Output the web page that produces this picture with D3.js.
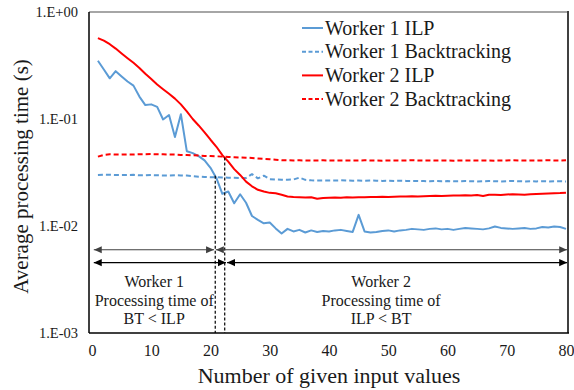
<!DOCTYPE html>
<html>
<head>
<meta charset="utf-8">
<script src="https://cdn.jsdelivr.net/npm/d3@7"></script>
<style>
  body { margin: 0; background: #fff; }
  svg, svg text { font-family: "Liberation Serif", "Times New Roman", serif; }
</style>
</head>
<body>
<svg id="chart"></svg>
<script>
const width = 574, height = 390;
const box = { left: 89, right: 568, top: 12, bottom: 333 };
const serif = "Liberation Serif";

// Data (x = number of given input values, 1..80)
const inputs = d3.range(1, 81);

const w1ILP = [0.35, 0.29, 0.24, 0.28, 0.25, 0.224, 0.205, 0.162, 0.135, 0.137,
  0.130, 0.099, 0.109, 0.068, 0.111, 0.050, 0.048, 0.045, 0.041, 0.035,
  0.028, 0.020, 0.021, 0.0163, 0.0198, 0.0165, 0.0124, 0.0114, 0.0106, 0.0108,
  0.0095, 0.0085, 0.0094, 0.0089, 0.0092, 0.0087, 0.0091, 0.0088, 0.0090, 0.0089,
  0.0091, 0.0092, 0.0090, 0.0088, 0.0127, 0.0089, 0.0087, 0.0088, 0.0090, 0.0091,
  0.0089, 0.0091, 0.0092, 0.0094, 0.0093, 0.0092, 0.0094, 0.0095, 0.0093, 0.0094,
  0.0092, 0.0094, 0.0096, 0.0095, 0.0094, 0.0093, 0.0095, 0.0099, 0.0096, 0.0095,
  0.0094, 0.0095, 0.0096, 0.0094, 0.0095, 0.0098, 0.0097, 0.0099, 0.0098, 0.0094];

const w1BT = [0.0300, 0.0302, 0.0301, 0.0300, 0.0299, 0.0300, 0.0301, 0.0298, 0.0298, 0.0299,
  0.0298, 0.0297, 0.0297, 0.0298, 0.0297, 0.0296, 0.0293, 0.0289, 0.0287, 0.0286,
  0.0285, 0.0284, 0.0283, 0.0282, 0.0281, 0.0281, 0.0305, 0.0279, 0.0295, 0.0274,
  0.0272, 0.0271, 0.0271, 0.0272, 0.0283, 0.0270, 0.0267, 0.0266, 0.0267, 0.0266,
  0.0266, 0.0267, 0.0266, 0.0265, 0.0266, 0.0265, 0.0266, 0.0265, 0.0264, 0.0265,
  0.0264, 0.0265, 0.0264, 0.0263, 0.0264, 0.0263, 0.0262, 0.0263, 0.0262, 0.0263,
  0.0262, 0.0262, 0.0263, 0.0262, 0.0261, 0.0262, 0.0263, 0.0262, 0.0261, 0.0262,
  0.0264, 0.0262, 0.0261, 0.0262, 0.0261, 0.0262, 0.0261, 0.0262, 0.0262, 0.0261];

const w2ILP = [0.57, 0.54, 0.50, 0.455, 0.41, 0.37, 0.335, 0.30, 0.265, 0.236,
  0.21, 0.19, 0.172, 0.155, 0.137, 0.118, 0.100, 0.087, 0.075, 0.064,
  0.055, 0.046, 0.040, 0.034, 0.030, 0.026, 0.0235, 0.0218, 0.0210, 0.0204,
  0.0202, 0.0196, 0.0189, 0.0187, 0.0186, 0.0185, 0.0186, 0.0180, 0.0183, 0.0184,
  0.0185, 0.0184, 0.0186, 0.0185, 0.0186, 0.0186, 0.0187, 0.0187, 0.0188, 0.0187,
  0.0188, 0.0189, 0.0189, 0.0190, 0.0189, 0.0190, 0.0191, 0.0192, 0.0191, 0.0192,
  0.0193, 0.0193, 0.0194, 0.0193, 0.0195, 0.0191, 0.0196, 0.0196, 0.0195, 0.0197,
  0.0198, 0.0197, 0.0196, 0.0198, 0.0199, 0.0200, 0.0201, 0.0202, 0.0203, 0.0205];

const w2BT = [0.0445, 0.0462, 0.0468, 0.0466, 0.0465, 0.0467, 0.0466, 0.0468, 0.0469, 0.0470,
  0.0469, 0.0468, 0.0466, 0.0465, 0.0462, 0.0460, 0.0458, 0.0455, 0.0452, 0.0450,
  0.0448, 0.0445, 0.0442, 0.0440, 0.0437, 0.0435, 0.0432, 0.0428, 0.0424, 0.0420,
  0.0416, 0.0412, 0.0411, 0.0410, 0.0411, 0.0410, 0.0409, 0.0410, 0.0411, 0.0410,
  0.0409, 0.0410, 0.0410, 0.0409, 0.0410, 0.0411, 0.0410, 0.0409, 0.0408, 0.0409,
  0.0410, 0.0409, 0.0410, 0.0411, 0.0410, 0.0409, 0.0410, 0.0409, 0.0410, 0.0409,
  0.0408, 0.0409, 0.0410, 0.0410, 0.0409, 0.0410, 0.0409, 0.0408, 0.0409, 0.0410,
  0.0411, 0.0410, 0.0409, 0.0410, 0.0409, 0.0410, 0.0411, 0.0410, 0.0410, 0.0411];

const seriesNames = ["Worker 1 ILP", "Worker 1 Backtracking", "Worker 2 ILP", "Worker 2 Backtracking"];
const seriesValues = [w1ILP, w1BT, w2ILP, w2BT];
const seriesColors = ["#5B9BD5", "#5B9BD5", "#FF0000", "#FF0000"];
const seriesDash = [null, "5,3", null, "5,3"];

const xTicks = [0, 10, 20, 30, 40, 50, 60, 70, 80];
const yTicks = [1e-3, 1e-2, 1e-1, 1];
const yTickLabels = ["1.E-03", "1.E-02", "1.E-01", "1.E+00"];

// Crossing points (where ILP becomes faster than BT)
const crossX = [20.8, 22.4];
const crossY = [0.0295, 0.0437];

// Arrow rows: [from, to, y value]
const arrows = [
  [0.3, 20.6, 0.0060], [20.9, 80.2, 0.0060],
  [0.3, 22.6, 0.00455], [22.8, 80.2, 0.00455]
];
const arrowColors = ["#404040", "#404040", "#000", "#000"];

const noteX = [10.5, 48.8];
const noteLines = [
  ["Worker 1", "Processing time of", "BT < ILP"],
  ["Worker 2", "Processing time of", "ILP < BT"]
];

const svg = d3.select("#chart").attr("width", width).attr("height", height)
  .attr("font-family", serif);

const x = d3.scaleLinear().domain([0, 80]).range([92, 566]);
const y = d3.scaleLog().domain([1e-3, 1]).range([box.bottom, box.top]);

// arrow markers
const defs = svg.append("defs");
["#404040", "#000"].forEach((c, i) => {
  defs.append("marker")
    .attr("id", "arr" + i)
    .attr("viewBox", "0 -5 10 10")
    .attr("refX", 10).attr("refY", 0)
    .attr("markerUnits", "userSpaceOnUse")
    .attr("markerWidth", 8).attr("markerHeight", 8)
    .attr("orient", "auto-start-reverse")
    .append("path")
    .attr("d", "M0,-4.5L10,0L0,4.5Z")
    .attr("fill", c);
});

// Series lines
const line = d3.line()
  .x((d, i) => x(inputs[i]))
  .y(d => y(d));

seriesValues.forEach((vals, i) => {
  svg.append("path")
    .datum(vals)
    .attr("fill", "none")
    .attr("stroke", seriesColors[i])
    .attr("stroke-width", 2)
    .attr("stroke-dasharray", seriesDash[i])
    .attr("stroke-linejoin", "round")
    .attr("d", line);
});

// Vertical dotted lines
crossX.forEach((cx, i) => {
  svg.append("line")
    .attr("x1", x(cx)).attr("x2", x(cx))
    .attr("y1", y(crossY[i])).attr("y2", box.bottom)
    .attr("stroke", "#000")
    .attr("stroke-width", 1.2)
    .attr("stroke-dasharray", "3,2");
});

// Arrows
arrows.forEach((a, i) => {
  const m = "url(#arr" + (i < 2 ? 0 : 1) + ")";
  svg.append("line")
    .attr("x1", x(a[0])).attr("x2", x(a[1]))
    .attr("y1", y(a[2])).attr("y2", y(a[2]))
    .attr("stroke", arrowColors[i])
    .attr("stroke-width", 1.2)
    .attr("marker-start", m)
    .attr("marker-end", m);
});

// Notes
noteLines.forEach((lines, i) => {
  const t = svg.append("text")
    .attr("x", x(noteX[i]))
    .attr("y", 287)
    .attr("text-anchor", "middle")
    .attr("font-family", serif)
    .attr("font-size", 16)
    .attr("fill", "#1a1a1a");
  lines.forEach((s, j) => {
    t.append("tspan").attr("x", x(noteX[i])).attr("dy", j === 0 ? 0 : 18.5).text(s);
  });
});

// Frame
svg.append("line").attr("x1", box.left).attr("x2", box.right).attr("y1", box.top).attr("y2", box.top)
  .attr("stroke", "#a6a6a6").attr("stroke-width", 2);
svg.append("line").attr("x1", box.right).attr("x2", box.right).attr("y1", box.top - 1).attr("y2", box.bottom)
  .attr("stroke", "#404040").attr("stroke-width", 2);
svg.append("line").attr("x1", box.left).attr("x2", box.right + 1).attr("y1", box.bottom).attr("y2", box.bottom)
  .attr("stroke", "#000").attr("stroke-width", 1.5);
svg.append("line").attr("x1", box.left).attr("x2", box.left).attr("y1", box.top).attr("y2", box.bottom)
  .attr("stroke", "#000").attr("stroke-width", 1.5);

// Axes (labels only)
const yAxis = svg.append("g")
  .attr("transform", `translate(${box.left},0)`)
  .call(d3.axisLeft(y).tickValues(yTicks).tickFormat((d, i) => yTickLabels[i]).tickSize(0).tickPadding(11));
yAxis.attr("font-family", serif);
yAxis.select(".domain").remove();
yAxis.selectAll("text").attr("font-family", serif).attr("font-size", 14.5).attr("fill", "#1a1a1a");

const xAxis = svg.append("g")
  .attr("transform", `translate(0,${box.bottom})`)
  .call(d3.axisBottom(x).tickValues(xTicks).tickSize(0).tickPadding(12));
xAxis.attr("font-family", serif);
xAxis.select(".domain").remove();
xAxis.selectAll("text").attr("font-family", serif).attr("font-size", 16).attr("fill", "#1a1a1a");

// Axis titles
svg.append("text")
  .attr("transform", `translate(28,${(box.top + box.bottom) / 2 + 4}) rotate(-90)`)
  .attr("text-anchor", "middle")
  .attr("font-family", serif)
  .attr("font-size", 21)
  .attr("fill", "#1a1a1a")
  .text("Average processing time (s)");

svg.append("text")
  .attr("x", 329).attr("y", 383)
  .attr("text-anchor", "middle")
  .attr("font-family", serif)
  .attr("font-size", 22)
  .attr("fill", "#1a1a1a")
  .text("Number of given input values");

// Legend
const legend = svg.append("g").attr("transform", "translate(302,28)");
seriesNames.forEach((name, i) => {
  const row = legend.append("g").attr("transform", `translate(0,${i * 23.7})`);
  row.append("line")
    .attr("x1", 0).attr("x2", 21).attr("y1", 0).attr("y2", 0)
    .attr("stroke", seriesColors[i]).attr("stroke-width", 2)
    .attr("stroke-dasharray", seriesDash[i] ? "4,2.5" : null);
  row.append("text")
    .attr("x", 23).attr("y", 6.5)
    .attr("font-family", serif)
    .attr("font-size", 20)
    .attr("fill", "#1a1a1a")
    .text(name);
});
</script>
</body>
</html>
